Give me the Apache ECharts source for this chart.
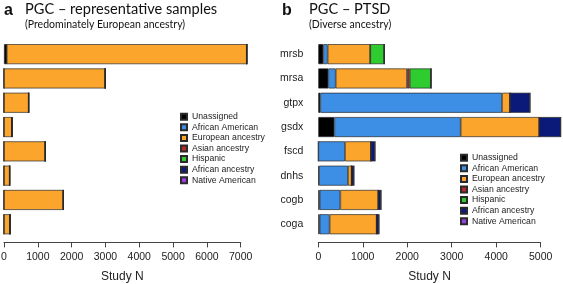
<!DOCTYPE html>
<html>
<head>
<meta charset="utf-8">
<script src="https://cdn.jsdelivr.net/npm/echarts@6/dist/echarts.min.js"></script>
<style>
  html, body { margin: 0; padding: 0; background: #fff; }
  #chart { width: 563px; height: 284px; }
</style>
</head>
<body>
<div id="chart"></div>
<script>
// ancestry groups, stacked in this order
var ancestries = ['Unassigned', 'African American', 'European ancestry', 'Asian ancestry', 'Hispanic', 'African ancestry', 'Native American'];
var ancestryColors = ['#000000', '#3d8fe6', '#fba52c', '#b02a2a', '#2ecc2e', '#0b1a78', '#9a3ee0'];

// panel a: representative samples (unlabelled rows, top to bottom)
var leftRows = ['1', '2', '3', '4', '5', '6', '7', '8'];
var leftValues = [
  [80, 0, 0, 0, 0, 0, 0, 0],                     // Unassigned
  [0, 0, 0, 0, 0, 0, 0, 0],                      // African American
  [7100, 2995, 730, 237, 1222, 168, 1755, 178],  // European ancestry
  [0, 0, 0, 0, 0, 0, 0, 0],
  [0, 0, 0, 0, 0, 0, 0, 0],
  [0, 0, 0, 0, 0, 0, 0, 0],
  [0, 0, 0, 0, 0, 0, 0, 0]
];

// panel b: PTSD studies (top to bottom)
var rightRows = ['mrsb', 'mrsa', 'gtpx', 'gsdx', 'fscd', 'dnhs', 'cogb', 'coga'];
var rightValues = [
  [112, 225, 45, 360, 0, 15, 30, 30],            // Unassigned
  [98, 166, 4085, 2841, 600, 652, 465, 225],     // African American
  [958, 1603, 180, 1768, 585, 82, 855, 1057],    // European ancestry
  [0, 60, 0, 0, 0, 0, 0, 0],                     // Asian ancestry
  [315, 480, 0, 0, 0, 0, 0, 0],                  // Hispanic
  [0, 0, 450, 481, 90, 52, 60, 52],              // African ancestry
  [0, 0, 0, 0, 0, 0, 0, 0]                       // Native American
];

var leftTicks = { min: 0, max: 7000, interval: 1000 };
var rightTicks = { min: 0, max: 5000, interval: 1000 };

var chart = echarts.init(document.getElementById('chart'));

var axisFont = 'Liberation Sans, Arial, sans-serif';
var titleFont = 'Lato, Open Sans, sans-serif';

function makeSeries(values, idx, stack) {
  return ancestries.map(function (name, i) {
    return {
      name: name,
      type: 'bar',
      stack: stack,
      xAxisIndex: idx,
      yAxisIndex: idx,
      barWidth: 20,
      clip: false,
      itemStyle: { color: ancestryColors[i], borderColor: '#2a2a2a', borderWidth: 0.7 },
      emphasis: { disabled: true },
      data: values[i]
    };
  });
}

function xAxisFor(idx, ticks) {
  return {
    type: 'value',
    gridIndex: idx,
    min: ticks.min,
    max: ticks.max,
    interval: ticks.interval,
    offset: 6,
    name: 'Study N',
    nameLocation: 'middle',
    nameGap: 28,
    nameTextStyle: { fontFamily: axisFont, fontSize: 12, color: '#222' },
    axisLine: { show: true, lineStyle: { color: '#444', width: 1 } },
    axisTick: { show: true, length: 5, lineStyle: { color: '#444' } },
    axisLabel: { fontFamily: axisFont, fontSize: 10.5, color: '#222', margin: 9,
      formatter: function (v) { return String(v); } },
    splitLine: { show: false }
  };
}

var legendBase = {
  orient: 'vertical',
  icon: 'rect',
  itemWidth: 6,
  itemHeight: 6,
  itemGap: 0.6,
  padding: 0,
  selectedMode: false,
  textStyle: { fontFamily: axisFont, fontSize: 8.7, lineHeight: 10, color: '#222' },
  data: ancestries
};

var option = {
  animation: false,
  title: [
    { text: 'a', left: 4, top: 3, padding: 0, textStyle: { fontFamily: axisFont, fontSize: 16, fontWeight: 'bold', color: '#111' } },
    { text: 'PGC \u2013 representative samples', subtext: '(Predominately European ancestry)', left: 25, top: 2, padding: 0, itemGap: 2,
      textStyle: { fontFamily: titleFont, fontSize: 14.6, fontWeight: 'normal', color: '#111' },
      subtextStyle: { fontFamily: titleFont, fontSize: 10.5, color: '#111' } },
    { text: 'b', left: 282, top: 3, padding: 0, textStyle: { fontFamily: axisFont, fontSize: 16, fontWeight: 'bold', color: '#111' } },
    { text: 'PGC \u2013 PTSD', subtext: '(Diverse ancestry)', left: 309, top: 2, padding: 0, itemGap: 2,
      textStyle: { fontFamily: titleFont, fontSize: 14.6, fontWeight: 'normal', color: '#111' },
      subtextStyle: { fontFamily: titleFont, fontSize: 10.5, color: '#111' } }
  ],
  legend: [
    Object.assign({}, legendBase, { left: 180, top: 111.7 }),
    Object.assign({}, legendBase, { left: 460, top: 152.7 })
  ],
  grid: [
    { left: 4, top: 42, width: 236.7, height: 194.4, containLabel: false, outerBoundsMode: 'none' },
    { left: 318.3, top: 42, width: 222.4, height: 194.4, containLabel: false, outerBoundsMode: 'none' }
  ],
  xAxis: [xAxisFor(0, leftTicks), xAxisFor(1, rightTicks)],
  yAxis: [
    { type: 'category', gridIndex: 0, inverse: true, data: leftRows,
      axisLine: { show: false }, axisTick: { show: false }, axisLabel: { show: false } },
    { type: 'category', gridIndex: 1, inverse: true, data: rightRows,
      axisLine: { show: false }, axisTick: { show: false },
      axisLabel: { fontFamily: axisFont, fontSize: 10.5, color: '#222', margin: 15 } }
  ],
  series: makeSeries(leftValues, 0, 'a').concat(makeSeries(rightValues, 1, 'b'))
};

chart.setOption(option);
</script>
</body>
</html>
